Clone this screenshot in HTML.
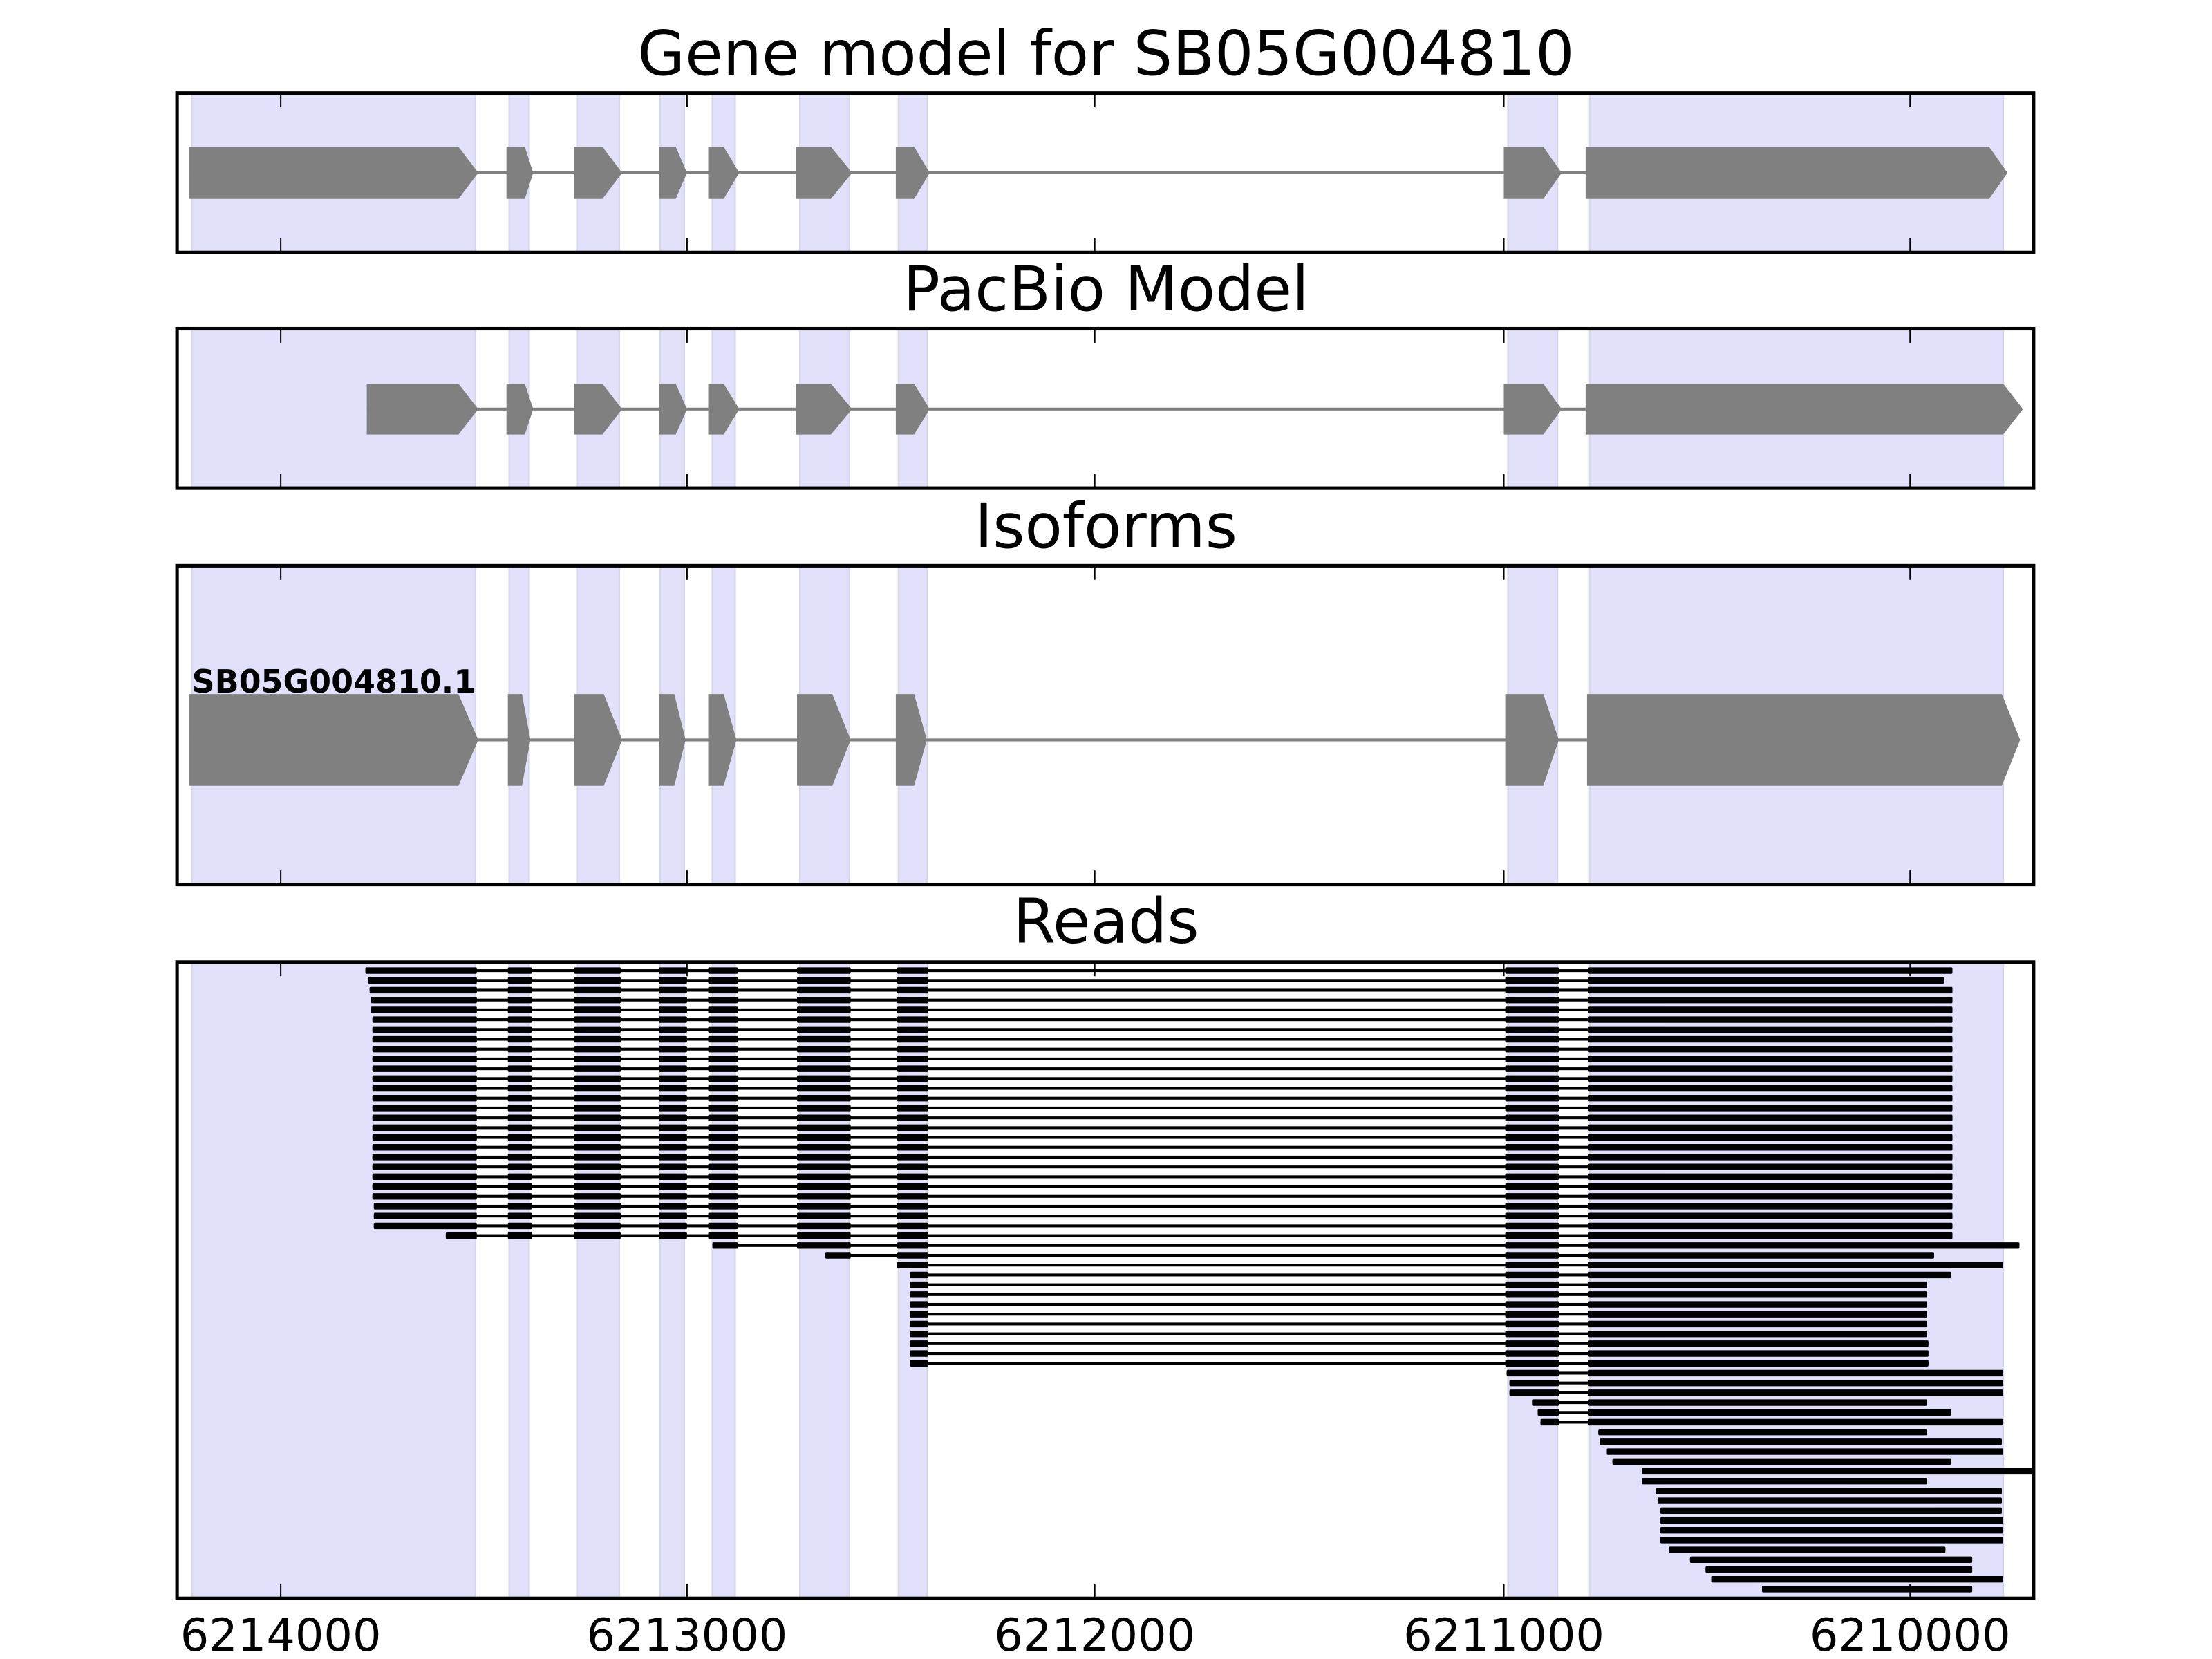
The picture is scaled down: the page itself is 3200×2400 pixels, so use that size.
<!DOCTYPE html>
<html><head><meta charset="utf-8"><style>
html,body{margin:0;padding:0;background:#fff;}
svg{display:block;}
</style></head><body>
<svg id="s" xmlns="http://www.w3.org/2000/svg" width="3200" height="2400" viewBox="0 0 1568 1176" font-family="DejaVu Sans, Liberation Sans, sans-serif">
<rect width="1568" height="1176" fill="#fff"/>
<g id="g"></g>
</svg>
<script>
(function(){
var g=document.getElementById('g');var NS='http://www.w3.org/2000/svg';
function el(t,a,txt){var e=document.createElementNS(NS,t);for(var k in a)e.setAttribute(k,a[k]);if(txt)e.textContent=txt;g.appendChild(e);return e;}
var L=125.5,R=1441.5;
var panels=[[66,179],[233,346],[401,627],[682,1133]];
var shades=[[136,337],[361,375],[409,439],[468,485],[505,521],[567,602],[637,657],[1069,1104],[1127,1420]];
var ticks=[199,487,776,1066,1354];
var titles=[["Gene model for SB05G004810",53],["PacBio Model",220],["Isoforms",388],["Reads",668]];
panels.forEach(function(p,i){
  shades.forEach(function(s){
    el('rect',{x:s[0],y:p[0],width:s[1]-s[0],height:p[1]-p[0],fill:'#e1e1fc'});
    el('line',{x1:s[0],y1:p[0],x2:s[0],y2:p[1],stroke:'#d6d6ec','stroke-width':1.2});
    el('line',{x1:s[1],y1:p[0],x2:s[1],y2:p[1],stroke:'#d6d6ec','stroke-width':1.2});
  });
  el('text',{x:784,y:titles[i][1],'font-size':43.5,'text-anchor':'middle',fill:'#000'},titles[i][0]);
});
function gene(cy,h,ex,lineEnd){
  var t=cy-h/2,b=cy+h/2;
  el('line',{x1:ex[0][0],y1:cy,x2:lineEnd,y2:cy,stroke:'#808080','stroke-width':2});
  ex.forEach(function(e){
    el('polygon',{points:e[0]+','+t+' '+e[1]+','+t+' '+e[2]+','+cy+' '+e[1]+','+b+' '+e[0]+','+b,fill:'#808080'});
  });
}
gene(122.5,37,[[134,325,339],[359,372,378],[407,427,441],[467,479,487],[502,513,524],[564,589,604],[635,648,659],[1066,1094,1107],[1124,1410,1423]],1124);
gene(290,36,[[260,325,339],[359,372,378],[407,427,441],[467,479,487],[502,513,524],[564,589,604],[635,648,659],[1066,1094,1107],[1124,1420,1434]],1124);
gene(524.5,65,[[134,325,339],[360,370,376],[407,428,441],[467,478,486],[502,513,522],[565,590,603],[635,648,657],[1067,1094,1105],[1125,1419,1432]],1125);
el('text',{x:136,y:491,'font-size':22.5,'font-weight':'bold',fill:'#000'},'SB05G004810.1');
var rows=[];
var st0=[259,261,262,263,263,264,264,264,264,264,264,264,264,264,264,264,264,264,264,264,264,264,264,264,265,265,265];
for(var i=0;i<27;i++)rows.push([st0[i],i==1?1378:1384]);
rows.push([316,1384]);
rows.push([505,1431.5]);
rows.push([585,1371]);
rows.push([636,1420]);
rows.push([645,1383]);
for(i=32;i<=40;i++)rows.push([645,i>=38?1367:1366]);
var rest=[[1068,1420],[1070,1420],[1070,1420],[1086,1366],[1090,1383],[1092,1420],[1133,1366],[1134,1419],[1139,1420],[1143,1383],[1164,1450],[1164,1366],[1174,1419],[1175,1419],[1177,1419],[1177,1420],[1177,1420],[1177,1420],[1183,1379],[1198,1398],[1209,1398],[1213,1420],[1249,1398]];
rows=rows.concat(rest);
var ex=[[0,338],[360,377],[407,440],[467,487],[502,523],[565,603],[636,658],[1067,1105],[1126,9999]];
el('clipPath',{id:'c'});
var cp=g.lastChild;var cr=document.createElementNS(NS,'rect');cr.setAttribute('x',L);cr.setAttribute('y',682);cr.setAttribute('width',R-L);cr.setAttribute('height',451);cp.appendChild(cr);
var rg=document.createElementNS(NS,'g');rg.setAttribute('clip-path','url(#c)');g.appendChild(rg);
function rel(t,a){var e=document.createElementNS(NS,t);for(var k in a)e.setAttribute(k,a[k]);rg.appendChild(e);}
rows.forEach(function(r,i){
  var cy=688+i*6.96;var s=r[0],e=r[1];
  rel('rect',{x:s,y:cy-1,width:e-s,height:2,fill:'#000'});
  ex.forEach(function(x){
    var a=Math.max(s,x[0]),b=Math.min(e,x[1]);
    if(b>a)rel('rect',{x:a,y:cy-2.3,width:b-a,height:4.6,fill:'#000',rx:0.8});
  });
});
panels.forEach(function(p){
  ticks.forEach(function(t){
    el('line',{x1:t,y1:p[0],x2:t,y2:p[0]+10,stroke:'#000','stroke-width':1});
    el('line',{x1:t,y1:p[1],x2:t,y2:p[1]-10,stroke:'#000','stroke-width':1});
  });
  el('rect',{x:L,y:p[0],width:R-L,height:p[1]-p[0],fill:'none',stroke:'#000','stroke-width':2.5});
});
var lab=['6214000','6213000','6212000','6211000','6210000'];
ticks.forEach(function(t,i){el('text',{x:t,y:1170,'font-size':32,'text-anchor':'middle',fill:'#000'},lab[i]);});
})();
</script>
</body></html>
